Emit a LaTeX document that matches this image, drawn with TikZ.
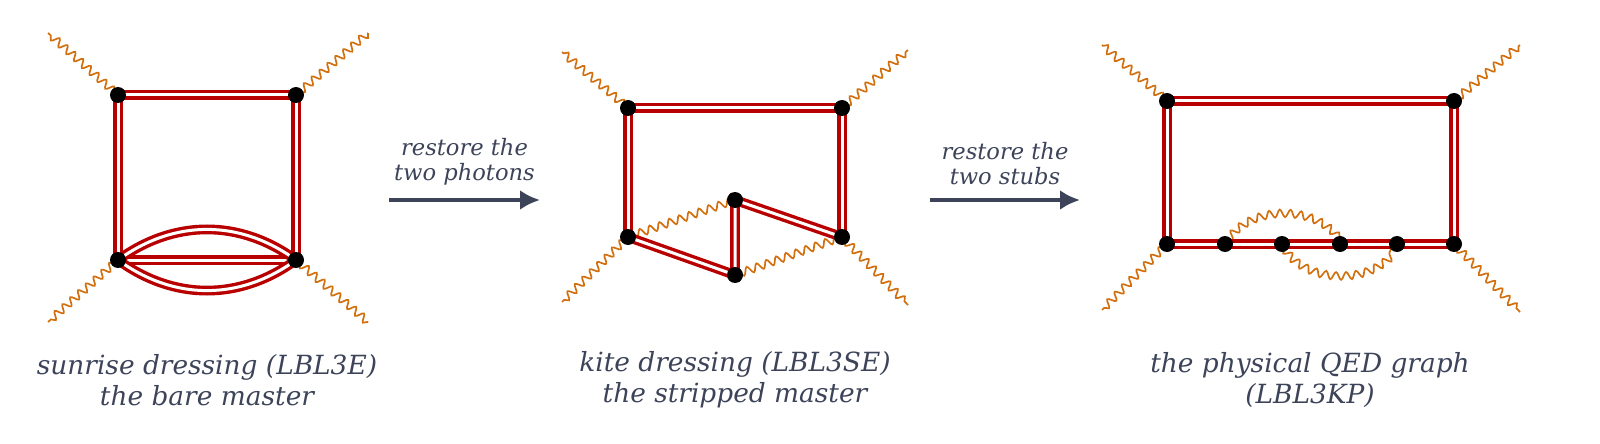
\documentclass[tikz,border=0pt]{standalone}
\usepackage{fontspec}
\setmainfont{DejaVu Serif}
\usetikzlibrary{decorations.pathmorphing,backgrounds,calc,arrows.meta}
\definecolor{fermion}{HTML}{B80000}
\definecolor{photon}{HTML}{D2700F}
\definecolor{slate}{HTML}{3D4459}
\tikzset{
  prop/.style = {draw = fermion, double = white, line width = 1.7pt, double distance = 1.5pt},
  gam/.style = {draw = photon, line width = 0.85pt, decorate,
    decoration = {snake, amplitude = 1.9pt, segment length = 5.2pt}},
  vtx/.style = {circle, fill = black, inner sep = 0pt, minimum size = 8pt},
  restore/.style = {draw = slate, line width = 2pt, -{Latex[length = 10pt, width = 10pt]}},
  lbl/.style = {text = slate, font = \itshape, align = center},
}
\begin{document}
\begin{tikzpicture}[x = 0.5pt, y = -0.5pt]
        % sunrise
        \node [vtx] (s1) at (118, 95) {};
        \node [vtx] (s2) at (296, 95) {};
        \node [vtx] (s3) at (118, 260) {};
        \node [vtx] (s4) at (296, 260) {};
        \coordinate (s1x) at (48, 33);
        \coordinate (s2x) at (368, 33);
        \coordinate (s3x) at (48, 322);
        \coordinate (s4x) at (368, 322);
        % kite
        \node [vtx] (k1) at (628, 108) {};
        \node [vtx] (k2) at (842, 108) {};
        \node [vtx] (k3) at (628, 237) {};
        \node [vtx] (k4) at (842, 237) {};
        \node [vtx] (k5) at (735, 200) {};
        \node [vtx] (k6) at (735, 275) {};
        \coordinate (k1x) at (562, 52);
        \coordinate (k2x) at (908, 50);
        \coordinate (k3x) at (562, 302);
        \coordinate (k4x) at (908, 305);
        % physical
        \node [vtx] (p1) at (1167, 101) {};
        \node [vtx] (p2) at (1454, 101) {};
        \node [vtx] (p3) at (1167, 244) {};
        \node [vtx] (p4) at (1454, 244) {};
        \foreach \i/\x in {5/1225, 6/1282, 7/1340, 8/1397}
            \node [vtx] (p\i) at (\x, 244) {};
        \coordinate (p1x) at (1102, 45);
        \coordinate (p2x) at (1520, 45);
        \coordinate (p3x) at (1102, 310);
        \coordinate (p4x) at (1520, 312);
        \begin{scope}[on background layer]
            \foreach \v in {s1, s2, s3, s4, k1, k2, k3, k4, p1, p2, p3, p4}
                \draw [gam] (\v.center) -- (\v x);
            \draw [prop] (s3.center) -- (s1.center) -- (s2.center) -- (s4.center);
            \draw [prop] (s3.center) -- (s4.center);
            \draw [prop] (s3.center) to [bend left = 36] (s4.center);
            \draw [prop] (s3.center) to [bend right = 36] (s4.center);
            \draw [gam] (k3.center) -- (k5.center);
            \draw [gam] (k6.center) -- (k4.center);
            \draw [prop] (k3.center) -- (k1.center) -- (k2.center) -- (k4.center);
            \draw [prop] (k3.center) -- (k6.center) -- (k5.center) -- (k4.center);
            \draw [gam] (p5.center) to [bend left = 58] (p7.center);
            \draw [gam] (p6.center) to [bend right = 62] (p8.center);
            \draw [prop] (p3.center) -- (p1.center) -- (p2.center) -- (p4.center) -- (p3.center);
        \end{scope}
        % steps
        \coordinate (a1) at (389, 200);
        \coordinate (b1) at (540, 200);
        \coordinate (a2) at (930, 200);
        \coordinate (b2) at (1080, 200);
        \draw [restore] (a1) -- (b1);
        \draw [restore] (a2) -- (b2);
        \node [lbl, font = \itshape\fontsize{11.3}{12.5}\selectfont, above = 4pt] at ($(a1)!0.5!(b1)$) {restore the\\two photons};
        \node [lbl, font = \itshape\fontsize{11.3}{12.5}\selectfont, above = 4pt] at ($(a2)!0.5!(b2)$) {restore the\\two stubs};
        % captions
        \node [lbl, font = \itshape\fontsize{13.2}{15.5}\selectfont] (c1) at (207, 380) {sunrise dressing (LBL3E)\\the bare master};
        \node [lbl, font = \itshape\fontsize{13.2}{15.5}\selectfont] (c2) at (735, 380) {kite dressing (LBL3SE)\\the stripped master};
        \node [lbl, font = \itshape\fontsize{13.2}{15.5}\selectfont] (c3) at (1310, 380) {the physical QED graph\\(LBL3KP)};
        \pgfresetboundingbox
        \useasboundingbox (0, 0) rectangle (1600, 444);
    \end{tikzpicture}
\end{document}
